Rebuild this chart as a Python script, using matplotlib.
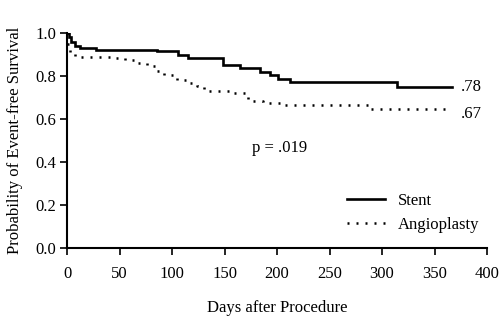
import matplotlib
matplotlib.use("Agg")
import matplotlib.pyplot as plt
from matplotlib.lines import Line2D

# Data (Kaplan-Meier style curves)
stent_days = [0, 2, 4, 8, 12, 28, 86, 106, 115, 149, 165, 184, 193, 201, 212, 314, 367]
stent_surv = [1.0, 0.98, 0.96, 0.94, 0.928, 0.922, 0.916, 0.898, 0.882, 0.851, 0.836,
              0.82, 0.805, 0.786, 0.774, 0.75, 0.75]

angio_days = [0, 3, 8, 44, 55, 65, 76, 85, 92, 105, 117, 124, 130, 158, 172, 187, 206, 289, 367]
angio_surv = [0.95, 0.91, 0.89, 0.885, 0.875, 0.862, 0.848, 0.825, 0.805, 0.78, 0.766,
              0.755, 0.732, 0.72, 0.685, 0.674, 0.665, 0.645, 0.645]

x_ticks = [0, 50, 100, 150, 200, 250, 300, 350, 400]
y_ticks = [0.0, 0.2, 0.4, 0.6, 0.8, 1.0]
series_names = ["Stent", "Angioplasty"]
end_labels = [".78", ".67"]
p_text = "p = .019"

plt.rcParams['font.family'] = ['Liberation Serif', 'DejaVu Serif']
plt.rcParams['font.size'] = 12

fig = plt.figure(figsize=(5.0, 3.22), dpi=100)
ax = fig.add_axes([67/500, 1 - 248/322, 420/500, 215/322])

dotted = (0, (0.8, 2.8))
ax.step(stent_days, stent_surv, where='post', color='black', lw=1.9, solid_joinstyle='miter')
ax.step(angio_days, angio_surv, where='post', color='black', lw=1.8, linestyle=dotted)

ax.set_xlim(0, 400)
ax.set_ylim(0, 1.0)
ax.set_xticks(x_ticks)
ax.set_yticks(y_ticks)
ax.set_yticklabels([f"{v:.1f}" for v in y_ticks])
ax.spines['top'].set_visible(False)
ax.spines['right'].set_visible(False)
ax.spines['left'].set_linewidth(1.5)
ax.spines['bottom'].set_linewidth(1.5)
ax.tick_params(axis='both', direction='out', length=5, width=1.2, colors='black')
ax.tick_params(axis='x', pad=8)
ax.tick_params(axis='y', pad=3)

ax.set_xlabel("Days after Procedure", labelpad=13)
ax.set_ylabel("Probability of Event-free Survival", labelpad=9)

# end-of-curve labels
ax.text(375, stent_surv[-1] - 0.003, end_labels[0], ha='left', va='center', fontsize=12)
ax.text(375, angio_surv[-1] - 0.02, end_labels[1], ha='left', va='center', fontsize=12)
ax.text(176, 0.465, p_text, ha='left', va='center', fontsize=12)

handles = [Line2D([], [], color='black', lw=1.9),
           Line2D([], [], color='black', lw=1.8, linestyle=dotted)]
ax.legend(handles, series_names, loc='upper left',
          bbox_to_anchor=(347/500, 1 - 193/322), bbox_transform=fig.transFigure,
          frameon=False, borderpad=0, borderaxespad=0, handlelength=2.3,
          handletextpad=0.75, labelspacing=0.5, fontsize=12)

fig.savefig("out.png", dpi=100)
